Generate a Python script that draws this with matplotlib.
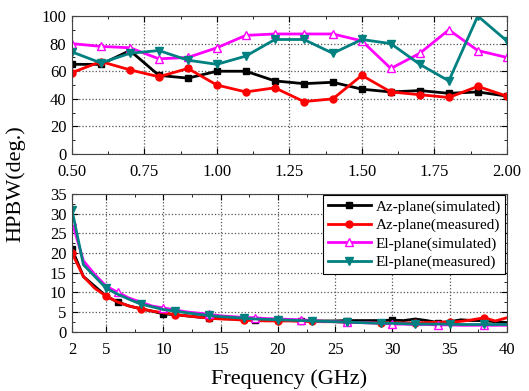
import matplotlib
matplotlib.use('Agg')
import matplotlib.pyplot as plt
import numpy as np
from matplotlib.ticker import MultipleLocator, FormatStrFormatter

plt.rcParams['font.family'] = ['Liberation Serif', 'DejaVu Serif']

# upper panel: 0.5 - 2.0 GHz
f_low = [0.5, 0.6, 0.7, 0.8, 0.9, 1.0, 1.1, 1.2, 1.3, 1.4, 1.5, 1.6, 1.7, 1.8, 1.9, 2.0]
az_sim_low = [65, 65, 75, 57, 55, 60, 60, 53, 51, 52, 47, 45, 46, 44, 45, 42]
az_meas_low = [59, 67, 61, 56, 62, 50, 45, 48, 38, 40, 57, 45, 43, 41, 49, 42]
el_sim_low = [80, 78, 77, 69, 70, 77, 86, 87, 87, 87, 82, 62, 73, 90, 75, 70]
el_meas_low = [74, 66, 73, 75, 68, 65, 71, 83, 83, 73, 83, 80, 65, 53, 100, 82]

# lower panel: 2 - 40 GHz
f_high = list(range(2, 41))
az_sim_high = [21, 14, 11.5, 9, 7.5, 6.5, 5.8, 5.2, 4.5, 4.3, 4, 3.7, 3.5, 3.3, 3.2, 3.1,
               3, 2.9, 2.9, 2.8, 2.8, 2.7, 2.7, 2.7, 2.8, 2.8, 2.8, 2.8, 2.9, 2.8, 3.2,
               2.8, 2.3, 2.5, 3.0, 2.8, 2.8, 2.5, 2.3]
az_meas_high = [20, 14, 11, 9, 7.5, 6.5, 5.8, 5.2, 4.8, 4.3, 4, 3.7, 3.4, 3.2, 3.1, 2.9,
                2.8, 2.7, 2.7, 2.7, 2.6, 2.6, 2.5, 2.5, 2.4, 2.3, 2.3, 2.2, 2.2, 2.2, 2.2,
                2.3, 2.4, 2.4, 2.6, 3.0, 3.5, 2.7, 3.5]
el_sim_high = [28, 18, 14.5, 11.5, 10, 8.5, 7.5, 6.5, 6, 5.5, 5, 4.7, 4.4, 4, 3.8, 3.6,
               3.5, 3.3, 3.2, 3.1, 3, 2.8, 2.6, 2.5, 2.4, 2.3, 2.2, 2.1, 1.9, 1.9, 1.8,
               1.8, 1.7, 1.7, 1.6, 1.6, 1.6, 1.6, 1.6]
el_meas_high = [31, 17, 14, 11, 9.5, 8.2, 7, 6.3, 5.6, 5.2, 4.8, 4.4, 4.1, 3.8, 3.6, 3.4,
                3.2, 3.1, 3.0, 2.9, 2.8, 2.7, 2.6, 2.5, 2.4, 2.3, 2.2, 2.1, 2.1, 2.0, 1.9,
                1.9, 1.9, 1.9, 1.8, 1.8, 1.8, 1.8, 1.8]

labels = ['Az-plane(simulated)', 'Az-plane(measured)', 'El-plane(simulated)', 'El-plane(measured)']
teal = '#008080'

fig = plt.figure(figsize=(5.29, 3.91), dpi=100)
ax1 = fig.add_axes([0.136, 0.606, 0.822, 0.353])
ax2 = fig.add_axes([0.136, 0.152, 0.822, 0.352])


def style_axis(ax):
    ax.tick_params(which='both', direction='in', top=True, right=True, labelsize=12)
    ax.tick_params(which='major', length=4)
    ax.tick_params(which='minor', length=2)
    ax.tick_params(axis='x', pad=7.5)
    ax.tick_params(axis='y', pad=4)
    ax.grid(True, which='major', linestyle=':', color='#555555', linewidth=0.9)
    for s in ax.spines.values():
        s.set_color('#444444')
        s.set_linewidth(0.8)


# upper
ax1.plot(f_low, az_sim_low, color='black', marker='s', ms=5, lw=2)
ax1.plot(f_low, az_meas_low, color='red', marker='o', ms=5, lw=2)
ax1.plot(f_low, el_sim_low, color='magenta', marker='^', ms=6, mfc='white', lw=2)
ax1.plot(f_low, el_meas_low, color=teal, marker='v', ms=6, lw=2)
ax1.set_xlim(0.5, 2.0)
ax1.set_ylim(0, 100)
ax1.xaxis.set_major_locator(MultipleLocator(0.25))
ax1.xaxis.set_minor_locator(MultipleLocator(0.125))
ax1.xaxis.set_major_formatter(FormatStrFormatter('%.2f'))
ax1.yaxis.set_major_locator(MultipleLocator(20))
ax1.yaxis.set_minor_locator(MultipleLocator(10))
style_axis(ax1)

# lower
ax2.plot(f_high, az_sim_high, color='black', marker='s', ms=5, lw=2, markevery=4, label=labels[0])
ax2.plot(f_high, az_meas_high, color='red', marker='o', ms=5, lw=2, markevery=3, label=labels[1])
ax2.plot(f_high, el_sim_high, color='magenta', marker='^', ms=6, mfc='white', lw=2, markevery=4, label=labels[2])
ax2.plot(f_high, el_meas_high, color=teal, marker='v', ms=6, lw=2, markevery=3, label=labels[3])
ax2.set_xlim(2, 40)
ax2.set_ylim(0, 35)
ax2.set_xticks([2, 5, 10, 15, 20, 25, 30, 35, 40])
ax2.set_xticks(np.arange(7.5, 40, 5), minor=True)
ax2.yaxis.set_major_locator(MultipleLocator(5))
ax2.yaxis.set_minor_locator(MultipleLocator(2.5))
style_axis(ax2)
ax2.set_xlabel('Frequency (GHz)', fontsize=16, labelpad=8)

leg = ax2.legend(loc='upper right', fontsize=11, handlelength=2.8, borderpad=0.3,
                 labelspacing=0.3, handletextpad=0.3, fancybox=False, framealpha=1,
                 borderaxespad=0.1)
leg.get_frame().set_edgecolor('black')
leg.get_frame().set_linewidth(0.8)

fig.text(0.03, 0.53, 'HPBW(deg.)', rotation=90, fontsize=16, ha='center', va='center')

fig.savefig('out.png', dpi=100)
